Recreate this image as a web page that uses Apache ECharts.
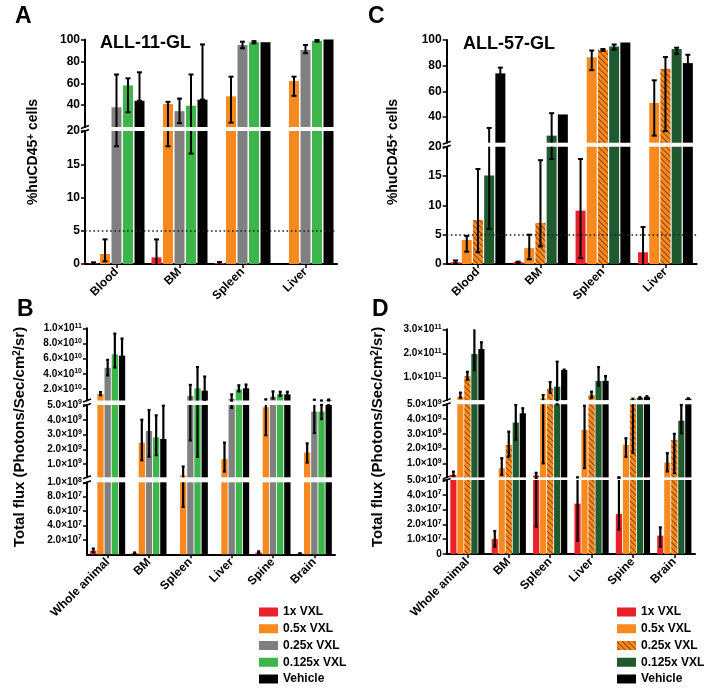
<!DOCTYPE html>
<html><head><meta charset="utf-8">
<script src="https://cdn.jsdelivr.net/npm/echarts@6/dist/echarts.min.js"></script>
<style>
html,body{margin:0;padding:0;background:#fff;width:713px;height:694px;overflow:hidden}
#left{position:absolute;left:0;top:0;width:356px;height:694px}
#right{position:absolute;left:356px;top:0;width:357px;height:694px}
</style></head>
<body><div id="left"></div><div id="right"></div>
<script>
const FONT = '"Liberation Sans", Arial, Helvetica, sans-serif';

// ---------------- DATA ----------------
const seriesNames = ['1x VXL', '0.5x VXL', '0.25x VXL', '0.125x VXL', 'Vehicle'];
const catsAC = ['Blood', 'BM', 'Spleen', 'Liver'];
const catsBD = ['Whole animal', 'BM', 'Spleen', 'Liver', 'Spine', 'Brain'];

// Panel A (ALL-11-GL, %huCD45+ cells), rows = series, cols = categories
const aMean = [
  [0.1, 1.0, 0.15, 0],
  [1.5, 41, 48, 62],
  [38, 34.5, 95, 90.5],
  [58, 39.5, 97.5, 98.8],
  [44, 45, 97.5, 100]
];
const aLow = [
  [0, 0, 0, 0],
  [0.4, 17.7, 24, 48.5],
  [17.7, 23.5, 92, 87.5],
  [33.5, 16.6, 96.5, 98],
  [44, 45, 97.5, 100]
];
const aHigh = [
  [0.25, 3.7, 0.3, 0],
  [3.7, 43, 66, 66],
  [68, 46, 98, 95],
  [64.5, 68, 98.5, 99.5],
  [70, 95.5, 97.5, 100]
];

// Panel C (ALL-57-GL)
const cMean = [
  [0.3, 0.3, 9.1, 2.0],
  [4.1, 2.7, 86.6, 51],
  [7.5, 7.0, 92.4, 77.5],
  [15.1, 25.5, 95, 93],
  [74, 42, 98, 82]
];
const cLow = [
  [0.1, 0.2, 1.0, 0],
  [2.1, 0.8, 76.5, 25.5],
  [2.0, 3.0, 91.5, 29],
  [6.0, 17.9, 92.5, 89],
  [70, 42, 98, 76]
];
const cHigh = [
  [0.6, 0.4, 17.9, 6.3],
  [4.8, 5.0, 91.8, 68.6],
  [16.2, 17.7, 93, 86.7],
  [31.5, 43, 96.5, 94],
  [78.5, 42, 98, 88.5]
];

// Panel B (ALL-11-GL, total flux)
const bMean = [
  [5e6, 1.5e6, 0, 0, 2.5e6, 1e6],
  [1.35e10, 2.45e9, 2.2e8, 1.33e9, 4.85e9, 1.78e9],
  [4.8e10, 3.24e9, 1.09e10, 7e9, 1e10, 4.55e9],
  [6.58e10, 2.8e9, 2.1e10, 1.97e10, 1.35e10, 4.55e9],
  [6.4e10, 2.7e9, 1.79e10, 2.1e10, 1.3e10, 5.5e9]
];
const bLow = [
  [3e6, 0.5e6, 0, 0, 1e6, 0.5e6],
  [1.2e10, 1.25e9, 6.6e7, 4.9e8, 2.95e9, 1.1e9],
  [3.8e10, 1.5e9, 2.6e9, 4.8e9, 7.5e9, 3.1e9],
  [4.85e10, 1.6e9, 1.5e9, 1.7e10, 1.1e10, 4.05e9],
  [4.4e10, 0.5e9, 0.6e10, 1.6e10, 1e10, 5e9]
];
const bHigh = [
  [8e6, 2.5e6, 0, 0, 4e6, 1.5e6],
  [1.6e10, 4.0e9, 8.3e8, 2.45e9, 6.6e9, 2.4e9],
  [5.85e10, 4.65e9, 2.55e10, 1.3e10, 1.7e10, 6e9],
  [9.3e10, 4.3e9, 4.9e10, 2.5e10, 1.65e10, 5.0e9],
  [8.65e10, 4.95e9, 3.65e10, 2.6e10, 1.65e10, 6.3e9]
];

// Panel D (ALL-57-GL, total flux)
const dMean = [
  [2.2e8, 1.01e7, 1.8e8, 3.4e7, 2.7e7, 1.24e7],
  [1.9e10, 6.75e8, 1.25e10, 3.26e9, 2.25e9, 1.05e9],
  [1.05e11, 2.25e9, 5.4e10, 2.6e10, 9e9, 2.59e9],
  [1.97e11, 3.76e9, 6.1e10, 8.5e10, 1.5e10, 3.89e9],
  [2.18e11, 4.39e9, 1.3e11, 8.5e10, 1.8e10, 1.1e10]
];
const dLow = [
  [1.5e8, 0.49e7, 1.85e7, 0.9e7, 1.65e7, 0.5e7],
  [1.5e10, 2.2e8, 1.0e9, 6.8e8, 1.45e9, 4.5e8],
  [0.9e11, 1.46e9, 3.5e10, 1.5e10, 1.7e9, 3.4e8],
  [1.3e11, 2.6e9, 5e9, 6.5e10, 1.2e10, 3.04e9],
  [1.95e11, 4.05e9, 1.27e11, 7e10, 1.5e10, 1e10]
];
const dHigh = [
  [4.4e8, 1.55e7, 3.6e8, 5.5e7, 5.5e7, 1.8e7],
  [3.6e10, 1.35e9, 2.6e10, 4.9e9, 2.7e9, 1.69e9],
  [1.23e11, 3.15e9, 8e10, 4e10, 1.1e10, 3.0e9],
  [3.07e11, 4.95e9, 1.65e11, 1.42e11, 1.7e10, 4.95e9],
  [2.46e11, 4.73e9, 1.32e11, 1.05e11, 2.1e10, 1.2e10]
];

// Tick values for each axis segment
const aTicksTop = [40, 60, 80, 100];
const aTicksBottom = [0, 5, 10, 15, 20];
const bTicksTop = [2e10, 4e10, 6e10, 8e10, 1e11];
const bTicksMid = [1e9, 2e9, 3e9, 4e9, 5e9];
const bTicksBottom = [2e7, 4e7, 6e7, 8e7, 1e8];
const dTicksTop = [1e11, 2e11, 3e11];
const dTicksMid = [1e9, 2e9, 3e9, 4e9, 5e9];
const dTicksBottom = [0, 1e7, 2e7, 3e7, 4e7, 5e7];

// ---------------- STYLE ----------------
const colorsAB = ['#e8222b', '#f7891f', '#808080', '#3cb54a', '#000000'];
const colorsCD = ['#e8222b', '#f7891f', '#f7891f', '#1e5a2e', '#000000'];
const hatch = {
  symbol: 'rect', symbolSize: 1, color: 'rgba(95,40,5,0.7)',
  dashArrayX: [1, 0], dashArrayY: [1, 2.2], rotation: Math.PI / 4
};

function plainFmt(v) { return '{b|' + v + '}'; }
function sciFmt(v) {
  if (v === 0) return '{b|0}';
  const e = Math.floor(Math.log10(v) + 1e-9);
  const m = v / Math.pow(10, e);
  return '{b|' + m.toFixed(1) + '×10}{s|' + e + '}';
}
const richPlain = { b: { fontSize: 12, fontWeight: 'bold', color: '#000', fontFamily: FONT } };
const richSci = {
  b: { fontSize: 10, fontWeight: 'bold', color: '#000', fontFamily: FONT, lineHeight: 12 },
  s: { fontSize: 7, fontWeight: 'bold', color: '#000', fontFamily: FONT, lineHeight: 6, verticalAlign: 'top' }
};

function makeErr(spacing, cap, w) {
  return function (params, api) {
    const c = api.value(0), i = api.value(1), lo = api.value(2), hi = api.value(3);
    const cs = params.coordSys;
    const pl = api.coord([c, lo]), ph = api.coord([c, hi]);
    const x = pl[0] + (i - 2) * spacing;
    const top = cs.y, bot = cs.y + cs.height;
    if (ph[1] > bot + 0.01 || pl[1] < top - 0.01) return null;
    const y1 = Math.max(ph[1], top), y2 = Math.min(pl[1], bot);
    const st = { stroke: '#000', lineWidth: w };
    const ch = [{ type: 'line', shape: { x1: x, y1: y1, x2: x, y2: y2 }, style: st }];
    if (ph[1] >= top - 0.5 && ph[1] <= bot + 0.5)
      ch.push({ type: 'line', shape: { x1: x - cap, y1: ph[1], x2: x + cap, y2: ph[1] }, style: st });
    if (lo > 0 && pl[1] >= top - 0.5 && pl[1] <= bot + 0.5)
      ch.push({ type: 'line', shape: { x1: x - cap, y1: pl[1], x2: x + cap, y2: pl[1] }, style: st });
    return { type: 'group', children: ch };
  };
}

function addPanel(opt, p) {
  const n = p.segments.length;
  p.segments.forEach((sg, k) => {
    const gi = opt.grid.length;
    const isBottom = k === n - 1;
    opt.grid.push({ left: p.left, top: sg.top, width: p.width, height: sg.height, containLabel: false, outerBoundsMode: 'none' });
    opt.xAxis.push({
      type: 'category', gridIndex: gi, data: p.cats, show: isBottom,
      axisLine: { show: true, onZero: false, lineStyle: { color: '#000', width: 2 } },
      axisTick: { show: true, alignWithLabel: true, length: 4, lineStyle: { color: '#000', width: 1.5 } },
      axisLabel: { show: isBottom, interval: 0, rotate: 45, fontSize: p.xFont, fontWeight: 'bold', color: '#000', fontFamily: FONT, margin: 6 }
    });
    opt.yAxis.push({
      type: 'value', gridIndex: gi, min: sg.min, max: sg.max,
      splitLine: { show: false },
      axisLine: { show: true, lineStyle: { color: '#000', width: 2 } },
      axisTick: { show: true, length: 4, customValues: sg.ticks, lineStyle: { color: '#000', width: 1.5 } },
      axisLabel: { customValues: sg.ticks, formatter: p.fmt, rich: p.rich, color: '#000', margin: 5 }
    });
    for (let i = 0; i < 5; i++) {
      const s = {
        type: 'bar', name: seriesNames[i], xAxisIndex: gi, yAxisIndex: gi, data: p.mean[i],
        barWidth: p.barWidth, barGap: p.barGap, clip: true, silent: true, animation: false,
        itemStyle: { color: p.colors[i] }
      };
      if (p.decals[i]) s.itemStyle.decal = p.decals[i];
      if (i === 4 && isBottom && p.refLine != null) {
        s.markLine = {
          silent: true, symbol: ['none', 'none'], label: { show: false }, animation: false,
          lineStyle: { type: [1.6, 2.6], color: '#222', width: 1.6 },
          data: [{ yAxis: p.refLine }]
        };
      }
      opt.series.push(s);
    }
    const rows = [];
    for (let i = 0; i < 5; i++)
      for (let c = 0; c < p.cats.length; c++)
        if (p.high[i][c] > p.low[i][c]) rows.push([c, i, p.low[i][c], p.high[i][c]]);
    opt.series.push({
      type: 'custom', xAxisIndex: gi, yAxisIndex: gi, data: rows, z: 5, silent: true, animation: false,
      encode: { x: 0, y: [2, 3] }, renderItem: makeErr(p.spacing, p.cap, p.errW)
    });
  });
  // axis-break marks
  for (let k = 0; k < n - 1; k++) {
    const g1 = p.segments[k].top + p.segments[k].height, g2 = p.segments[k + 1].top;
    [g1, g2].forEach(y => opt.graphic.push({
      type: 'line', silent: true, shape: { x1: p.left - 4, y1: y + 1.5, x2: p.left + 4, y2: y - 1.5 },
      style: { stroke: '#000', lineWidth: 1.5 }
    }));
  }
}

function txt(x, y, text, size, weight, rot, rich) {
  return {
    type: 'text', x: x, y: y, rotation: rot || 0, silent: true,
    style: { text: text, fontSize: size, fontWeight: weight, fontFamily: FONT, fill: '#000',
      align: rot ? 'center' : 'left', verticalAlign: 'middle', rich: rich || {} }
  };
}
const supRich = { s: { fontSize: 10, fontWeight: 'bold', lineHeight: 9, verticalAlign: 'top', fontFamily: FONT, fill: '#000' } };

function baseOption(legendLeft) {
  return {
    animation: false, grid: [], xAxis: [], yAxis: [], series: [], graphic: [],
    legend: {
      left: legendLeft, top: 605, orient: 'vertical', itemWidth: 19, itemHeight: 9, itemGap: 2.75,
      padding: 0, icon: 'rect', selectedMode: false, data: seriesNames,
      textStyle: { fontSize: 12, fontWeight: 'bold', color: '#000', fontFamily: FONT, lineHeight: 14 }
    }
  };
}

// ---------------- LEFT (A, B) ----------------
const optL = baseOption(259);
addPanel(optL, {
  left: 85, width: 252, cats: catsAC, mean: aMean, low: aLow, high: aHigh,
  colors: colorsAB, decals: [], barWidth: 10, barGap: '15%', spacing: 11.5, cap: 2.5, errW: 2,
  xFont: 12, fmt: plainFmt, rich: richPlain, refLine: 5,
  segments: [
    { top: 39.5, height: 87.5, min: 20, max: 100, ticks: aTicksTop },
    { top: 131, height: 133, min: 0, max: 20, ticks: aTicksBottom }
  ]
});
addPanel(optL, {
  left: 87, width: 248, cats: catsBD, mean: bMean, low: bLow, high: bHigh,
  colors: colorsAB, decals: [], barWidth: 6.3, barGap: '14%', spacing: 7.18, cap: 1.5, errW: 2.2,
  xFont: 12, fmt: sciFmt, rich: richSci, refLine: null,
  segments: [
    { top: 328.3, height: 72.2, min: 5e9, max: 1e11, ticks: bTicksTop },
    { top: 405, height: 72.3, min: 1e8, max: 5e9, ticks: bTicksMid },
    { top: 482.3, height: 72, min: 0, max: 1e8, ticks: bTicksBottom }
  ]
});
optL.graphic.push(
  txt(15, 17, 'A', 23, 'bold'),
  txt(17, 310, 'B', 23, 'bold'),
  txt(100, 43.5, 'ALL-11-GL', 18, 'bold'),
  txt(33, 152, '%huCD45{s|+} cells', 14, 'bold', Math.PI / 2, supRich),
  txt(20, 437, 'Total flux (Photons/Sec/cm{s|2}/sr)', 15, 'bold', Math.PI / 2, supRich)
);

// ---------------- RIGHT (C, D) ----------------
const optR = baseOption(261);
addPanel(optR, {
  left: 90.7, width: 250, cats: catsAC, mean: cMean, low: cLow, high: cHigh,
  colors: colorsCD, decals: [null, null, hatch, null, null], barWidth: 10, barGap: '12%', spacing: 11.2, cap: 2.5, errW: 2,
  xFont: 12, fmt: plainFmt, rich: richPlain, refLine: 5,
  segments: [
    { top: 40, height: 102.7, min: 20, max: 100, ticks: aTicksTop },
    { top: 146.7, height: 117.3, min: 0, max: 20, ticks: aTicksBottom }
  ]
});
addPanel(optR, {
  left: 90.7, width: 248.3, cats: catsBD, mean: dMean, low: dLow, high: dHigh,
  colors: colorsCD, decals: [null, null, hatch, null, null], barWidth: 6.2, barGap: '13%', spacing: 7.0, cap: 1.5, errW: 2.2,
  xFont: 12, fmt: sciFmt, rich: richSci, refLine: null,
  segments: [
    { top: 329.3, height: 70.8, min: 5e9, max: 3e11, ticks: dTicksTop },
    { top: 404.3, height: 73.1, min: 5e7, max: 5e9, ticks: dTicksMid },
    { top: 480, height: 74, min: 0, max: 5e7, ticks: dTicksBottom }
  ]
});
optR.graphic.push(
  txt(12, 17, 'C', 23, 'bold'),
  txt(16, 310, 'D', 23, 'bold'),
  txt(107, 44, 'ALL-57-GL', 18, 'bold'),
  txt(37, 152, '%huCD45{s|+} cells', 14, 'bold', Math.PI / 2, supRich),
  txt(22, 437, 'Total flux (Photons/Sec/cm{s|2}/sr)', 15, 'bold', Math.PI / 2, supRich)
);

echarts.init(document.getElementById('left'), null, { renderer: 'canvas' }).setOption(optL);
echarts.init(document.getElementById('right'), null, { renderer: 'canvas' }).setOption(optR);
</script></body></html>
